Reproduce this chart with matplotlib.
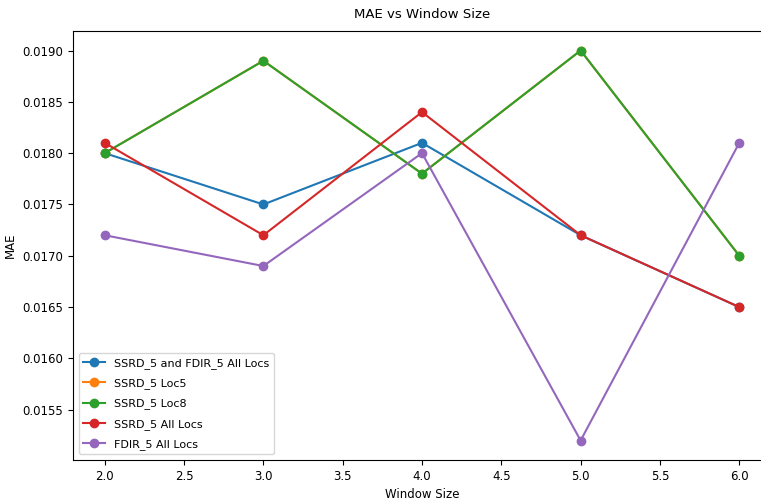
import numpy as np
import matplotlib
matplotlib.use("Agg")
import matplotlib.pyplot as plt

# window sizes
window_sizes = [2, 3, 4, 5, 6]

# MAE per configuration
mae_both_all = [0.0180, 0.0175, 0.0181, 0.0172, 0.0165]
mae_ssrd_loc5 = [0.0180, 0.0189, 0.0178, 0.0190, 0.0170]
mae_ssrd_loc8 = [0.0180, 0.0189, 0.0178, 0.0190, 0.0170]
mae_ssrd_all = [0.0181, 0.0172, 0.0184, 0.0172, 0.0165]
mae_fdir_all = [0.0172, 0.0169, 0.0180, 0.0152, 0.0181]

labels = ["SSRD_5 and FDIR_5 All Locs", "SSRD_5 Loc5", "SSRD_5 Loc8",
          "SSRD_5 All Locs", "FDIR_5 All Locs"]

fig = plt.figure(figsize=(7.61, 5.04), dpi=100)
# axes runs past the right edge (reference is a cropped screenshot)
ax = fig.add_axes([73/761, 44/504, 698/761, 429/504])

for vals, lab in zip([mae_both_all, mae_ssrd_loc5, mae_ssrd_loc8, mae_ssrd_all, mae_fdir_all], labels):
    ax.plot(window_sizes, vals, marker="o", label=lab)

ax.set_xlim(1.8, 6.2)
ax.spines["right"].set_visible(False)  # cut off in the reference
ax.tick_params(labelsize=8.5)
ax.set_title("MAE vs Window Size", fontsize=9.5, pad=9)
ax.set_xlabel("Window Size", fontsize=8.5)
ax.set_ylabel("MAE", fontsize=8.5)
ax.legend(loc="lower left", fontsize=8, labelspacing=0.85)

fig.savefig("out.png", dpi=100)
